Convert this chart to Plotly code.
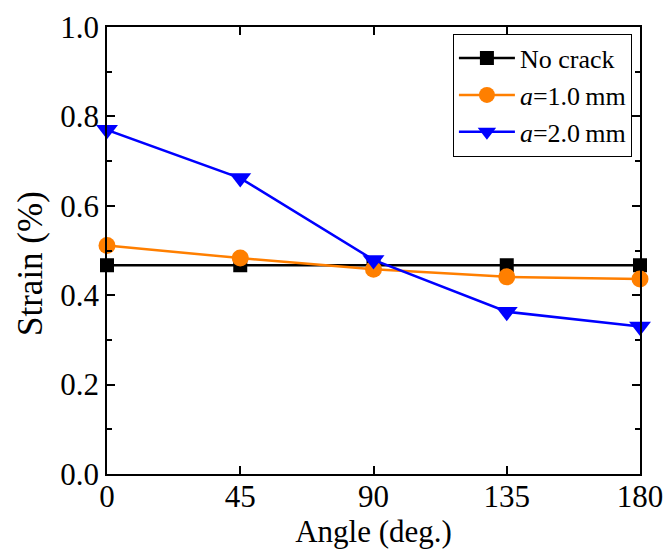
import plotly.graph_objects as go

angles = [0, 45, 90, 135, 180]
no_crack = [0.467, 0.467, 0.467, 0.467, 0.467]
a_1mm = [0.511, 0.483, 0.458, 0.441, 0.436]
a_2mm = [0.770, 0.662, 0.479, 0.363, 0.330]

names = ["No crack", "<i>a</i>=1.0\u2009mm", "<i>a</i>=2.0\u2009mm"]
colors = ["#000000", "#FF7F00", "#0000FF"]
symbols = ["square", "circle", "triangle-down"]
sizes = [14, 17, 19]
series = [no_crack, a_1mm, a_2mm]

fig = go.Figure()
for name, ys, c, s, sz in zip(names, series, colors, symbols, sizes):
    fig.add_trace(go.Scatter(
        x=angles, y=ys, name=name, mode="lines+markers",
        line=dict(color=c, width=2.5),
        marker=dict(symbol=s, size=sz, color=c),
        cliponaxis=False,
    ))

axis_common = dict(
    showline=True, linecolor="black", linewidth=1.5, mirror="ticks",
    ticks="inside", tickcolor="black", tickwidth=1.5, ticklen=8,
    showgrid=False, zeroline=False, automargin=False,
    tickfont=dict(family="Liberation Serif", size=31, color="black"),
)

fig.update_xaxes(
    range=[0, 180], tickvals=angles, ticktext=["0", "45", "90", "135", "180"],
    title_text="Angle (deg.)", title_standoff=7, ticklabelstandoff=-6,
    title_font=dict(family="Liberation Serif", size=31, color="black"),
    **axis_common,
)
fig.update_yaxes(
    range=[0, 1.0], tickvals=[0, 0.2, 0.4, 0.6, 0.8, 1.0],
    ticktext=["0.0", "0.2", "0.4", "0.6", "0.8", "1.0"],
    minor=dict(ticks="inside", dtick=0.1, ticklen=5, tickcolor="black", tickwidth=1.5),
    **axis_common,
)

fig.add_annotation(
    text="Strain (%)", textangle=-90, showarrow=False,
    xref="paper", yref="paper", x=-0.1445, y=0.472,
    xanchor="center", yanchor="middle",
    font=dict(family="Liberation Serif", size=35, color="black"),
)

fig.update_layout(
    width=665, height=556,
    margin=dict(l=107, r=25, t=27, b=82),
    plot_bgcolor="white", paper_bgcolor="white",
    font=dict(family="Liberation Serif", color="black"),
    legend=dict(
        x=0.649, y=0.985, xanchor="left", yanchor="top",
        bordercolor="black", borderwidth=1, bgcolor="white",
        font=dict(family="Liberation Serif", size=26, color="black"),
        tracegroupgap=0, itemwidth=56,
    ),
)

fig.write_html(
    "out.html",
    config={"displayModeBar": False},
    post_script="document.body.style.margin='0';document.body.style.overflow='hidden';",
)
